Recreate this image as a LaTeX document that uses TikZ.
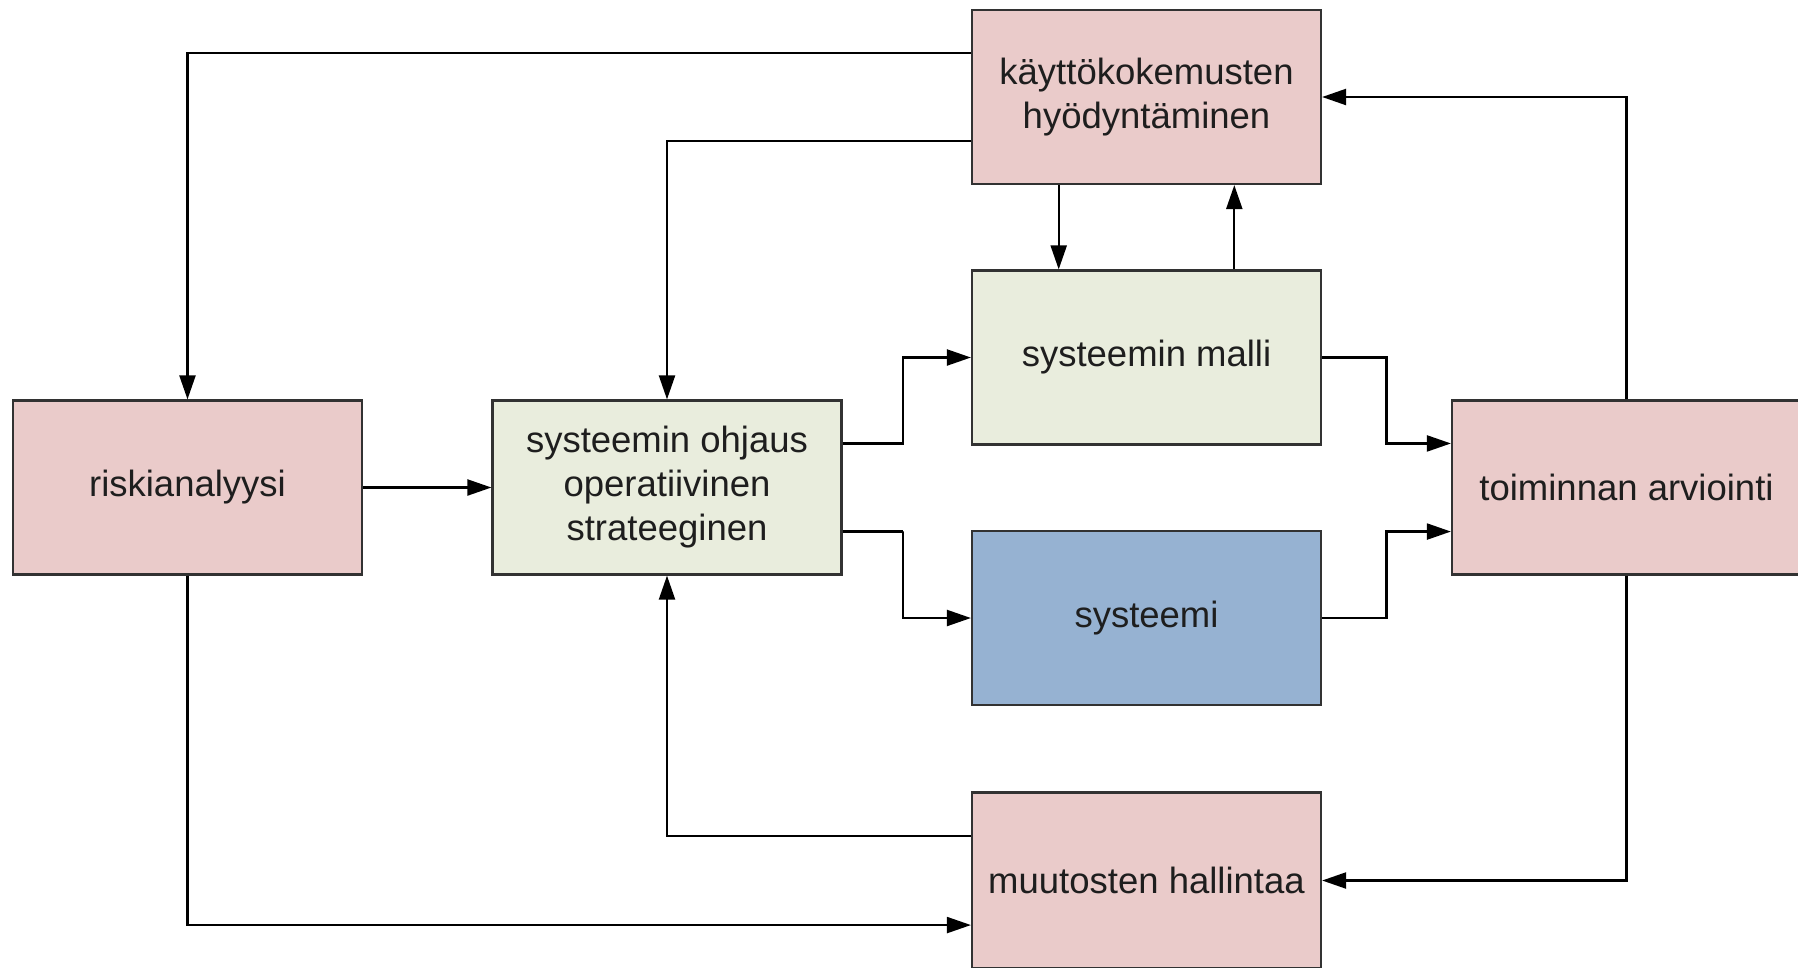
\documentclass[tikz,border=0pt]{standalone}
\usepackage{fontspec}
\setmainfont{Liberation Sans}
\usetikzlibrary{calc,arrows.meta}
\definecolor{pinkfill}{RGB}{234,203,202}
\definecolor{greenfill}{RGB}{233,237,221}
\definecolor{bluefill}{RGB}{150,178,210}
\definecolor{edgecol}{RGB}{50,50,50}
\definecolor{txtcol}{RGB}{30,30,30}
\begin{document}
\begin{tikzpicture}[x={(1pt,0)},y={(0,-1pt)},
  box/.style={draw=edgecol,line width=2.2pt,minimum width=349pt,minimum height=174pt,
    inner sep=0pt,align=center,text=txtcol,font=\fontsize{36.5}{44}\selectfont},
  pinkbox/.style={box,fill=pinkfill},
  greenbox/.style={box,fill=greenfill},
  bluebox/.style={box,fill=bluefill},
  arr/.style={draw=black,line width=2.2pt,-{Triangle[length=24pt,width=16pt]}}]
\useasboundingbox (0,0) rectangle (1798,967);
\fill[white] (0,0) rectangle (1798,967);
% nodes
\node[pinkbox]  (kay)   at (1146.5,97)  {käyttökokemusten\\hyödyntäminen};
\node[greenbox] (malli) at (1146.5,357.5) {systeemin malli};
\node[bluebox]  (sys)   at (1146.5,618)   {systeemi};
\node[pinkbox,minimum height=176pt]  (muut)  at (1146.5,880.5) {muutosten hallintaa};
\node[pinkbox]  (risk)  at (187.5,487.5)  {riskianalyysi};
\node[greenbox] (ohj)   at (667,487.5)    {systeemin ohjaus\\operatiivinen\\strateeginen};
\node[pinkbox]  (toim)  at (1626.5,487.5) {toiminnan arviointi};
% connectors
\draw[arr] ($(kay.north west)!.25!(kay.south west)$) -| (risk.north);
\draw[arr] ($(kay.north west)!.75!(kay.south west)$) -| (ohj.north);
\draw[arr] ($(kay.south west)!.25!(kay.south east)$) coordinate (a1) -- (a1 |- malli.north);
\draw[arr] ($(malli.north west)!.75!(malli.north east)$) coordinate (a2) -- (a2 |- kay.south);
\draw[arr] (toim.north) |- (kay.east);
\draw[arr] (toim.south) |- (muut.east);
\draw[arr] (malli.east) -| ($(malli.east)!.5!(malli.east -| toim.west)$) |- ($(toim.north west)!.25!(toim.south west)$);
\draw[arr] (sys.east) -| ($(sys.east)!.5!(sys.east -| toim.west)$) |- ($(toim.north west)!.75!(toim.south west)$);
\draw[arr] ($(ohj.north east)!.25!(ohj.south east)$) coordinate (o1) -| ($(o1)!.47!(o1 -| malli.west)$) |- (malli.west);
\draw[arr] ($(ohj.north east)!.75!(ohj.south east)$) coordinate (o2) -| ($(o2)!.47!(o2 -| sys.west)$) |- (sys.west);
\draw[arr] (risk.east) -- (ohj.west);
\draw[arr] (risk.south) |- ($(muut.north west)!.75!(muut.south west)$);
\draw[arr] ($(muut.north west)!.25!(muut.south west)$) -| (ohj.south);
\end{tikzpicture}
\end{document}
